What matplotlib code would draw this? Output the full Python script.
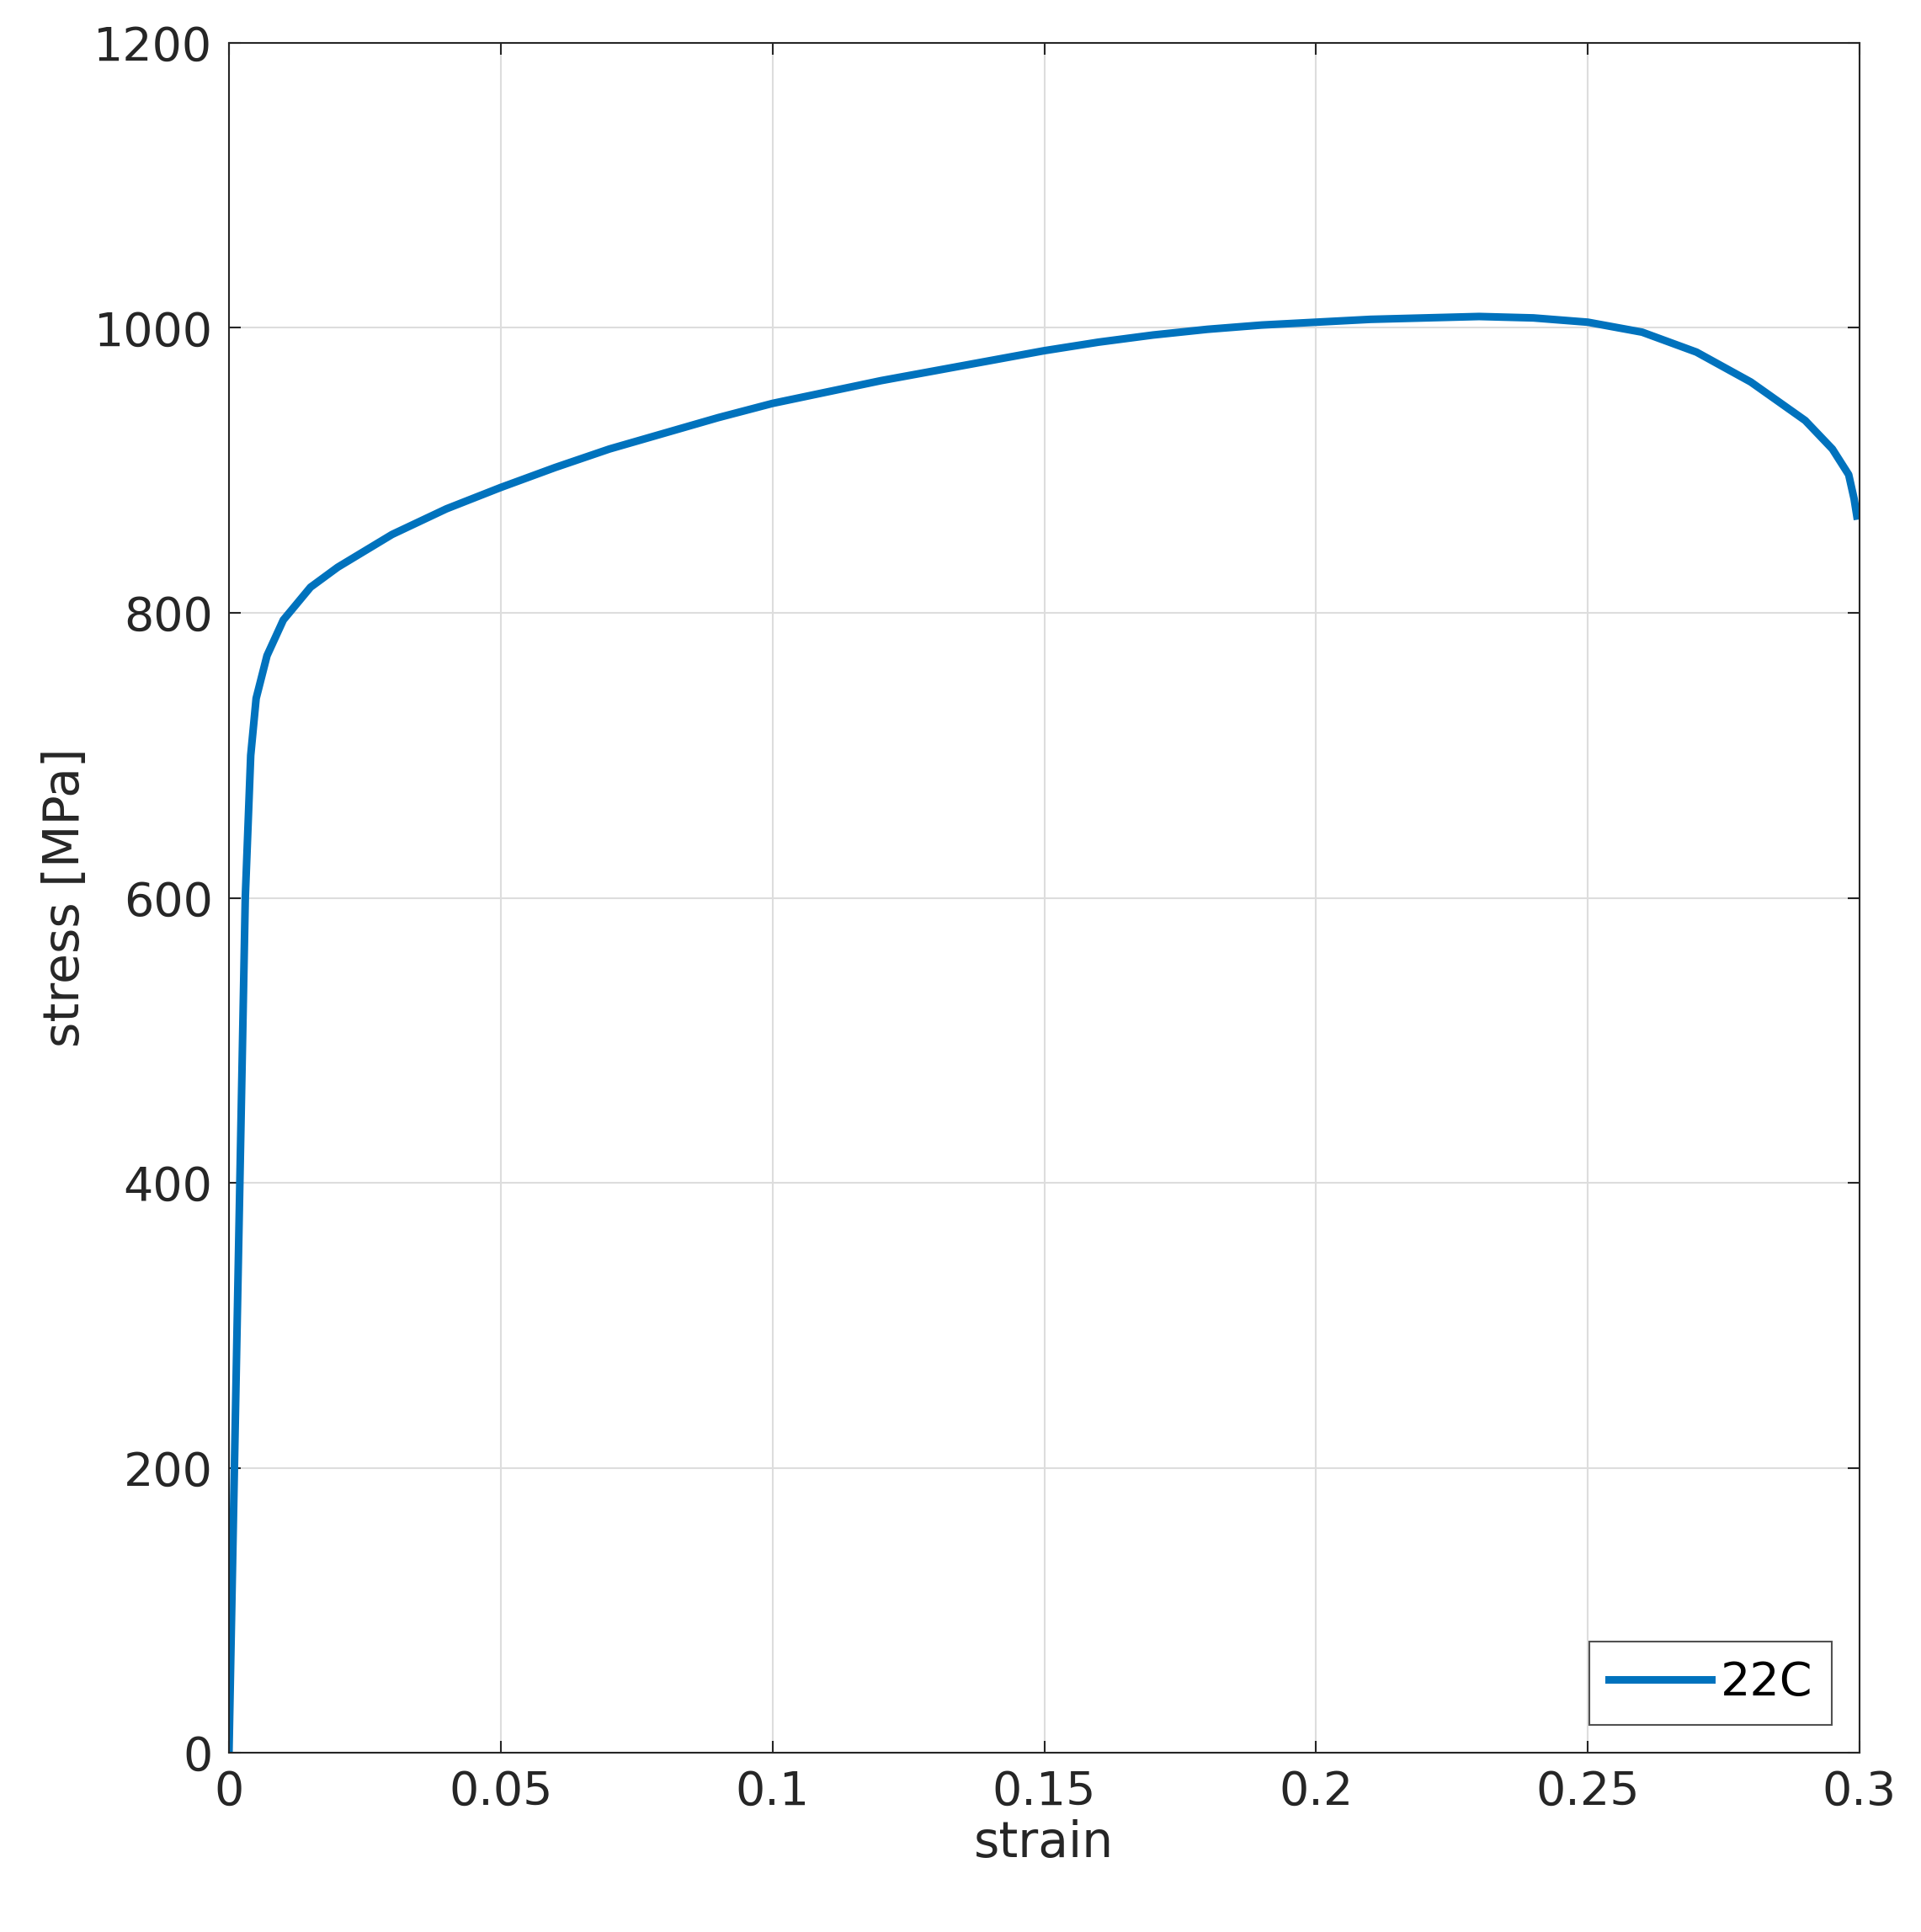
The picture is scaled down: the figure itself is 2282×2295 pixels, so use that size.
import matplotlib.pyplot as plt
import numpy as np

strain = [0, 0.001, 0.002, 0.003, 0.004, 0.005, 0.007, 0.01, 0.015, 0.02, 0.03, 0.04, 0.05,
          0.06, 0.07, 0.08, 0.09, 0.1, 0.11, 0.12, 0.13, 0.14, 0.15, 0.16, 0.17, 0.18, 0.19,
          0.2, 0.21, 0.22, 0.23, 0.24, 0.25, 0.26, 0.27, 0.28, 0.29, 0.295, 0.298, 0.299, 0.2995]
stress = [0, 200, 400, 600, 700, 740, 770, 795, 818, 832, 855, 873, 888,
          902, 915, 926, 937, 947, 955, 963, 970, 977, 984, 990, 995, 999, 1002,
          1004, 1006, 1007, 1008, 1007, 1004, 997, 983, 962, 935, 915, 897, 880, 868]

fig = plt.figure(figsize=(22.82, 22.95), dpi=100)
ax = fig.add_axes([272/2282, 1 - 2082/2295, (2209-272)/2282, (2082-51)/2295])
ax.plot(strain, stress, color="#0072BD", linewidth=6.5, label="22C")
ax.set_xlim(0, 0.3)
ax.set_ylim(0, 1200)
ax.set_xticks([0, 0.05, 0.1, 0.15, 0.2, 0.25, 0.3])
ax.set_xticklabels(["0", "0.05", "0.1", "0.15", "0.2", "0.25", "0.3"])
ax.set_yticks(np.arange(0, 1201, 200))
ax.grid(True, color="#dddddd", linewidth=1.5)
ax.tick_params(labelsize=40, colors="#262626", direction="in", length=10, width=1.5,
               top=True, right=True, pad=14)
for s in ax.spines.values():
    s.set_color("#262626")
    s.set_linewidth(1.5)
ax.set_xlabel("strain", fontsize=42, color="#262626")
ax.set_ylabel("stress [MPa]", fontsize=42, color="#262626")
leg = ax.legend(loc="lower right", fontsize=40, fancybox=False, handlelength=2.2,
                borderaxespad=0.6, handletextpad=0.2)
leg.get_frame().set_edgecolor("#262626")
leg.get_frame().set_linewidth(1.5)
fig.savefig("out.png", dpi=100)
